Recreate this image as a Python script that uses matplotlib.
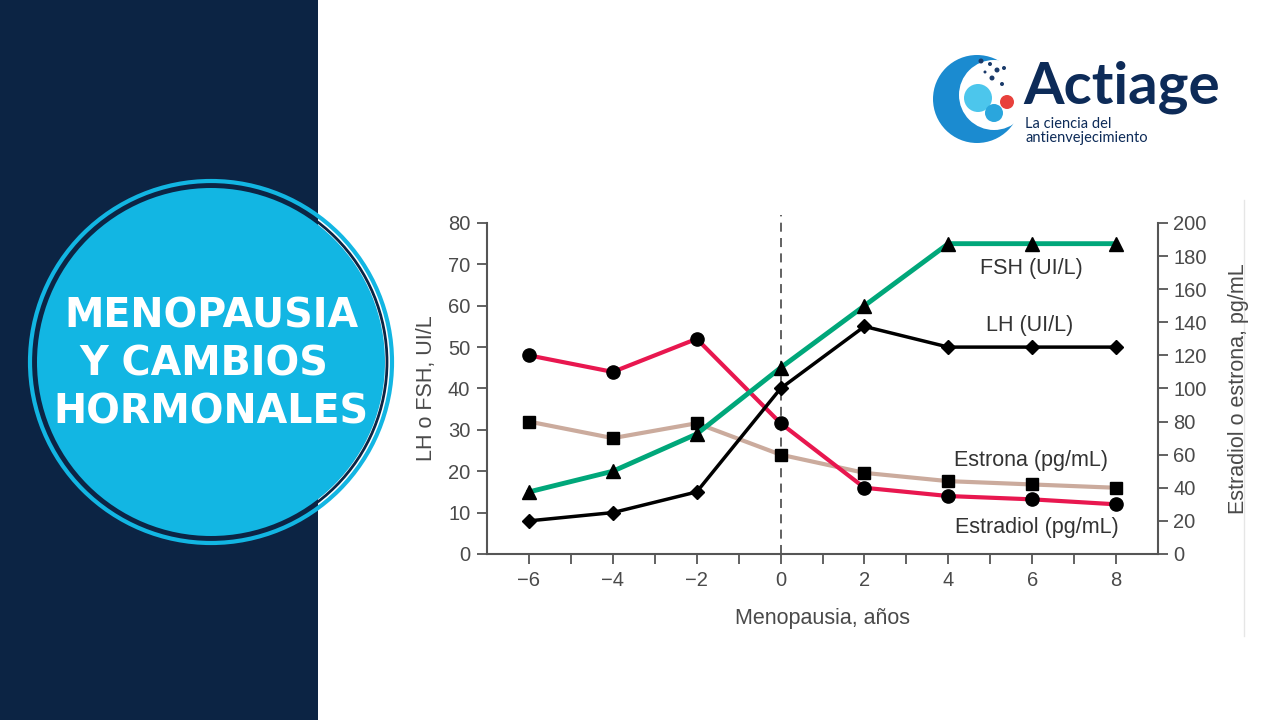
import matplotlib.pyplot as plt
from matplotlib.patches import Circle, Rectangle
import numpy as np

# Data
years = [-6, -4, -2, 0, 2, 4, 6, 8]
fsh = [15, 20, 29, 45, 60, 75, 75, 75]            # UI/L (left axis)
lh = [8, 10, 15, 40, 55, 50, 50, 50]              # UI/L (left axis)
estradiol = [120, 110, 130, 79, 40, 35, 33, 30]   # pg/mL (right axis)
estrona = [80, 70, 79, 60, 49, 44, 42, 40]        # pg/mL (right axis)

series_labels = ['FSH (UI/L)', 'LH (UI/L)', 'Estrona (pg/mL)', 'Estradiol (pg/mL)']
title_lines = ['MENOPAUSIA', 'Y CAMBIOS ', 'HORMONALES']

navy = '#0c2444'
cyan = '#12b6e3'
red = '#e8174f'
green = '#00a77a'
tan = '#cbab9d'
grey = '#4a4a4a'

fig = plt.figure(figsize=(12.8, 7.2), dpi=100)
fig.patch.set_facecolor('white')

# Background layer in pixel coordinates
bg = fig.add_axes([0, 0, 1, 1], zorder=0)
bg.set_xlim(0, 1280)
bg.set_ylim(720, 0)
bg.axis('off')
bg.add_patch(Rectangle((0, 0), 318, 720, color=navy, lw=0))
bg.add_patch(Circle((211, 362), 181, fc='none', ec=cyan, lw=3))
bg.add_patch(Circle((211, 362), 176, fc='none', ec=navy, lw=2))
bg.add_patch(Circle((211, 362), 174, fc=cyan, ec='none'))
for i, line in enumerate(title_lines):
    bg.text(211, 316 + i * 48, line, color='white', fontsize=28.5, fontweight='bold',
            family='DejaVu Sans', ha='center', va='center')

# Logo
bg.add_patch(Circle((977, 99), 44, fc='#1b8bd0', ec='none'))
bg.add_patch(Circle((994, 95), 35, fc='white', ec='none'))
bg.add_patch(Circle((978, 98), 14, fc='#4cc6ec', ec='none'))
bg.add_patch(Circle((994, 113), 9, fc='#2aa6dd', ec='none'))
bg.add_patch(Circle((1007, 102), 7, fc='#e8413c', ec='none'))
for (dx, dy, r) in [(981, 61, 2.5), (990, 64, 2), (997, 70, 2.5), (1004, 68, 2),
                    (992, 78, 2.5), (1002, 84, 2), (985, 72, 1.5)]:
    bg.add_patch(Circle((dx, dy), r, fc='#1a3a6a', ec='none'))
bg.text(1023, 103, 'Actiage', color='#0d2b58', fontsize=42, fontweight='bold',
        family='Lato', ha='left', va='baseline')
bg.text(1025, 124, 'La ciencia del', color='#0d2b58', fontsize=10.5, family='Lato',
        ha='left', va='center')
bg.text(1025, 138, 'antienvejecimiento', color='#0d2b58', fontsize=10.5, family='Lato',
        ha='left', va='center')
bg.plot([1244, 1244], [200, 636], color='#e6e6e6', lw=1)

# Chart
ax = fig.add_axes([0.3805, 0.2306, 0.5242, 0.4597], zorder=1)
ax.patch.set_alpha(0)
ax2 = ax.twinx()

ax.set_xlim(-7, 9)
ax.set_ylim(0, 80)
ax2.set_ylim(0, 200)

ax2.plot(years, estrona, color=tan, lw=3, marker='s', ms=8.5, mfc='black', mec='black', zorder=2)
ax2.plot(years, estradiol, color=red, lw=3, marker='o', ms=9.5, mfc='black', mec='black', zorder=3)
ax2.plot(years, fsh, color=green, lw=3.5, marker='^', ms=9.5, mfc='black', mec='black',
         zorder=4, transform=ax.transData)
ax2.plot(years, lh, color='black', lw=2.5, marker='D', ms=7.5, mfc='black', mec='black',
         zorder=5, transform=ax.transData)
ax2.plot([0, 0], [0, 82], color='#555555', lw=1.3, ls=(0, (5, 3.5)), clip_on=False,
         zorder=1, transform=ax.transData)

for a in (ax, ax2):
    a.spines['top'].set_visible(False)
    for s in a.spines.values():
        s.set_color('#555555')
        s.set_linewidth(1.5)
ax.spines['right'].set_visible(False)
ax2.spines['left'].set_visible(False)
ax2.spines['bottom'].set_visible(False)

ax.set_xticks(years)
ax.set_xticklabels(['\u22126', '\u22124', '\u22122', '0', '2', '4', '6', '8'])
ax.set_xticks([-5, -3, -1, 1, 3, 5, 7], minor=True)
ax.set_yticks(np.arange(0, 81, 10))
ax2.set_yticks(np.arange(0, 201, 20))
ax.tick_params(axis='both', which='both', direction='out', length=7, width=1.3,
               color='#555555', labelsize=14.5, labelcolor=grey, pad=5)
ax2.tick_params(axis='y', direction='out', length=7, width=1.3, color='#555555',
                labelsize=14.5, labelcolor=grey, pad=4)
for lab in ax.get_xticklabels() + ax.get_yticklabels() + ax2.get_yticklabels():
    lab.set_family('Liberation Sans')

ax.set_xlabel('Menopausia, a\u00f1os', fontsize=15.5, color=grey, family='Liberation Sans',
              labelpad=13)
ax.set_ylabel('LH o FSH, UI/L', fontsize=15.5, color=grey, family='Liberation Sans',
              labelpad=8)
ax2.set_ylabel('Estradiol o estrona, pg/mL', fontsize=15.5, color=grey,
               family='Liberation Sans', labelpad=15)

label_pos = [(5.98, 69), (5.95, 55.3), (5.98, 22.5), (6.1, 6.5)]
for text, (lx, ly) in zip(series_labels, label_pos):
    ax.text(lx, ly, text, fontsize=15.5, color='#333333', family='Liberation Sans',
            ha='center', va='center', zorder=6)

fig.savefig('out.png', dpi=100)
